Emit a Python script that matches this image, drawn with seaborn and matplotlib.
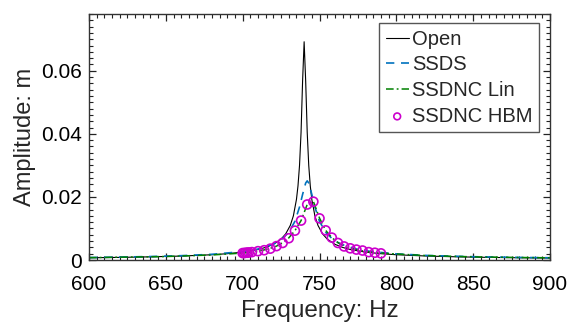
import numpy as np
import pandas as pd
import matplotlib
matplotlib.use("Agg")
import matplotlib.pyplot as plt
import seaborn as sns
from matplotlib.ticker import MultipleLocator

# ---- data ----
open_f = [600, 620, 640, 660, 680, 690, 700, 710, 715, 720, 725, 728, 731, 733, 735, 736,
          737, 738, 739, 740, 741, 742, 743, 744, 745, 747, 749, 752, 755, 760, 765, 770,
          780, 790, 800, 820, 840, 860, 880, 900]
open_a = [0.00071, 0.00083, 0.00100, 0.00125, 0.00167, 0.00200, 0.00250, 0.00333, 0.00400,
          0.00499, 0.00664, 0.00828, 0.01097, 0.0140, 0.0192, 0.0235, 0.0300, 0.0405, 0.0568,
          0.0692, 0.0568, 0.0405, 0.0300, 0.0235, 0.0192, 0.0140, 0.01097, 0.00828, 0.00664,
          0.00499, 0.00400, 0.00333, 0.00250, 0.00200, 0.00167, 0.00125, 0.00100, 0.00083,
          0.00071, 0.00062]

ssds_f = [600, 620, 640, 660, 680, 700, 710, 720, 725, 730, 734, 737, 739, 741, 742, 743,
          745, 747, 750, 754, 759, 764, 774, 784, 800, 820, 850, 880, 900]
ssds_a = [0.00079, 0.00092, 0.00110, 0.00137, 0.00181, 0.00266, 0.00348, 0.00501, 0.00639,
          0.00877, 0.01225, 0.0168, 0.0208, 0.0244, 0.0251, 0.0244, 0.0208, 0.0168, 0.01225,
          0.00877, 0.00639, 0.00501, 0.00348, 0.00266, 0.00195, 0.00144, 0.00104, 0.00081,
          0.00071]

lin_f = [600, 650, 680, 700, 706, 710, 714, 718, 722, 726, 730, 734, 738, 742, 746, 750,
         754, 758, 762, 766, 770, 774, 778, 782, 786, 790, 800, 820, 850, 880, 900]
lin_a = [0.00075, 0.0011, 0.0016, 0.0022, 0.0025, 0.0028, 0.0032, 0.0037, 0.0044, 0.0055,
         0.0070, 0.0093, 0.0125, 0.0176, 0.0186, 0.0133, 0.0094, 0.0071, 0.0055, 0.0044,
         0.0037, 0.0033, 0.0029, 0.0026, 0.0024, 0.0022, 0.0019, 0.0014, 0.0010, 0.0008,
         0.0007]

hbm_f = [700, 701, 702, 703, 704, 706, 710, 714, 718, 722, 726, 730, 734, 738, 742, 746,
         750, 754, 758, 762, 766, 770, 774, 778, 782, 786, 790]
hbm_a = [0.0022, 0.0022, 0.0023, 0.0023, 0.0024, 0.0025, 0.0028, 0.0031, 0.0036, 0.0044,
         0.0054, 0.0069, 0.0093, 0.0125, 0.0176, 0.0185, 0.0132, 0.0094, 0.0071, 0.0054,
         0.0043, 0.0037, 0.0033, 0.0030, 0.0025, 0.0023, 0.0021]

xticks = [600, 650, 700, 750, 800, 850, 900]
yticks = [0, 0.02, 0.04, 0.06]
ytick_labels = ["0", "0.02", "0.04", "0.06"]

# ---- style ----
sns.set_style("ticks")
plt.rcParams['font.family'] = ['Liberation Sans', 'DejaVu Sans']

fig = plt.figure(figsize=(5.69, 3.25), dpi=100)
ax = fig.add_axes([89 / 569, 1 - 260 / 325, 461 / 569, 246 / 325])

df_open = pd.DataFrame({"f": open_f, "a": open_a})
df_ssds = pd.DataFrame({"f": ssds_f, "a": ssds_a})
df_lin = pd.DataFrame({"f": lin_f, "a": lin_a})
df_hbm = pd.DataFrame({"f": hbm_f, "a": hbm_a})

sns.lineplot(data=df_open, x="f", y="a", ax=ax, color="black", linewidth=0.8,
             label="Open", sort=False)
sns.lineplot(data=df_ssds, x="f", y="a", ax=ax, color="#0072BD", linewidth=1.2,
             linestyle=(0, (5, 4)), label="SSDS", sort=False)
sns.lineplot(data=df_lin, x="f", y="a", ax=ax, color="#008000", linewidth=1.1,
             linestyle=(0, (5, 2, 1.2, 2)), label="SSDNC Lin", sort=False)
sns.scatterplot(data=df_hbm, x="f", y="a", ax=ax, marker="o", s=42,
                facecolors="none", edgecolor="#CC00CC", linewidth=1.2,
                label="SSDNC HBM", zorder=5)

ax.set_xlim(600, 900)
ax.set_ylim(0, 0.078)
ax.set_xticks(xticks)
ax.set_xticklabels([str(t) for t in xticks])
ax.set_yticks(yticks)
ax.set_yticklabels(ytick_labels)
ax.xaxis.set_minor_locator(MultipleLocator(5))
ax.yaxis.set_minor_locator(MultipleLocator(0.002))

ax.tick_params(axis="both", which="both", direction="in", top=True, right=True,
               colors="#222222", labelcolor="black")
ax.tick_params(axis="both", which="major", length=5, width=0.9, labelsize=15)
ax.tick_params(axis="both", which="minor", length=3, width=0.8)
ax.tick_params(axis="x", which="major", pad=11)
ax.tick_params(axis="y", which="major", pad=5)

for sp in ax.spines.values():
    sp.set_visible(True)
    sp.set_linewidth(1.0)
    sp.set_color("#333333")

ax.set_xlabel("Frequency: Hz", fontsize=17.5, labelpad=4)
ax.set_ylabel("Amplitude: m", fontsize=17, labelpad=4)

leg = ax.legend(loc="upper right", bbox_to_anchor=(0.976, 0.963), borderaxespad=0,
                fontsize=14.5, fancybox=False, framealpha=1, edgecolor="#555555",
                handlelength=1.15, handletextpad=0.15, labelspacing=0.33,
                borderpad=0.33, scatterpoints=1, markerscale=0.75)
leg.get_frame().set_linewidth(1.0)

fig.savefig("out.png", dpi=100)
